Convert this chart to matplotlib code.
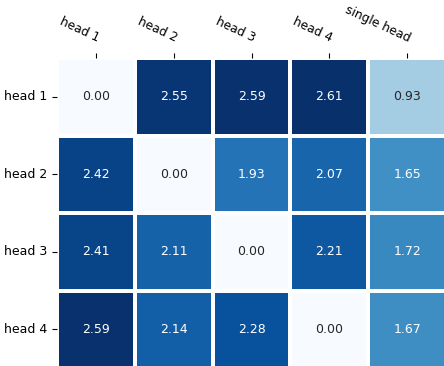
import matplotlib
matplotlib.use("Agg")
import matplotlib.pyplot as plt
import seaborn as sns
import numpy as np

# Data
row_labels = ["head 1", "head 2", "head 3", "head 4"]
col_labels = ["head 1", "head 2", "head 3", "head 4", "single head"]
values = np.array([
    [0.00, 2.55, 2.59, 2.61, 0.93],
    [2.42, 0.00, 1.93, 2.07, 1.65],
    [2.41, 2.11, 0.00, 2.21, 1.72],
    [2.59, 2.14, 2.28, 0.00, 1.67],
])

fig = plt.figure(figsize=(4.44, 3.66), dpi=100)
ax = fig.add_axes([57 / 444, -2 / 366, 389 / 444, 310 / 366])

sns.heatmap(values, ax=ax, cmap="Blues", annot=True, fmt=".2f",
            linewidths=2.8, linecolor="white", cbar=False,
            xticklabels=col_labels, yticklabels=row_labels,
            annot_kws={"fontsize": 9})

ax.xaxis.tick_top()
ax.tick_params(axis="x", pad=6)
plt.setp(ax.get_xticklabels(), rotation=-25, ha="right", va="bottom",
         rotation_mode="anchor", fontsize=8.8)
plt.setp(ax.get_yticklabels(), rotation=0, fontsize=9)

fig.savefig("out.png", dpi=100)
